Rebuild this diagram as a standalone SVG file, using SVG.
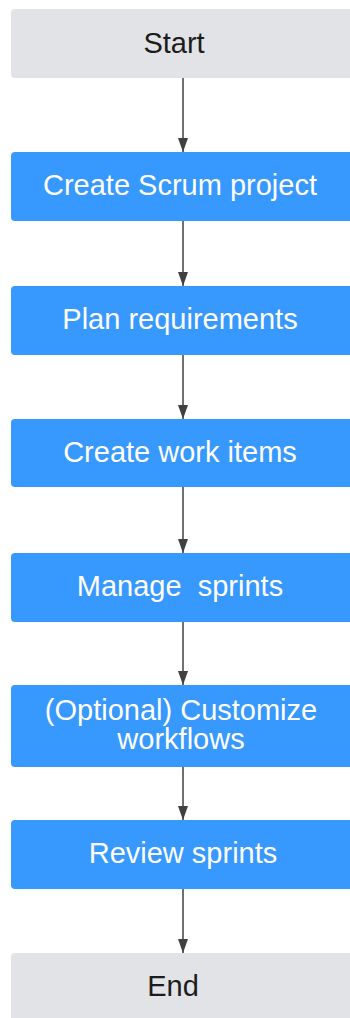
<svg xmlns="http://www.w3.org/2000/svg" width="350" height="1018" viewBox="0 0 350 1018">
<style>
.gray{fill:#e1e3e6}
.blue{fill:#3798fd}
.t{font-family:"Liberation Sans",Arial,sans-serif;font-size:29px;text-anchor:middle;white-space:pre}
.tw{fill:#ffffff}
.td{fill:#1c1c1c}
.c{stroke:#404040;stroke-width:1.5;fill:none}
</style>
<defs>
<marker id="ah" markerUnits="userSpaceOnUse" markerWidth="14" markerHeight="10" refX="14" refY="5" orient="auto" viewBox="0 0 14 10">
<path d="M0,0 L14,5 L0,10 Z" fill="#404040"/>
</marker>
</defs>
<rect width="350" height="1018" fill="#ffffff"/>
<g id="connectors">
<line class="c" x1="183" y1="78" x2="183" y2="152" marker-end="url(#ah)"/>
<line class="c" x1="183" y1="221" x2="183" y2="286" marker-end="url(#ah)"/>
<line class="c" x1="183" y1="355" x2="183" y2="419" marker-end="url(#ah)"/>
<line class="c" x1="183" y1="487" x2="183" y2="553" marker-end="url(#ah)"/>
<line class="c" x1="183" y1="622" x2="183" y2="685" marker-end="url(#ah)"/>
<line class="c" x1="183" y1="767" x2="183" y2="820" marker-end="url(#ah)"/>
<line class="c" x1="183" y1="889" x2="183" y2="953" marker-end="url(#ah)"/>
</g>
<g id="start">
<rect class="gray" x="11" y="9" width="345" height="69" rx="4"/>
<text class="t td" x="174" y="53">Start</text>
</g>
<g id="create-scrum-project">
<rect class="blue" x="11" y="152" width="345" height="69" rx="4"/>
<text class="t tw" x="180" y="195">Create Scrum project</text>
</g>
<g id="plan-requirements">
<rect class="blue" x="11" y="286" width="345" height="69" rx="4"/>
<text class="t tw" x="180" y="329">Plan requirements</text>
</g>
<g id="create-work-items">
<rect class="blue" x="11" y="419" width="345" height="68" rx="4"/>
<text class="t tw" x="180" y="462">Create work items</text>
</g>
<g id="manage-sprints">
<rect class="blue" x="11" y="553" width="345" height="69" rx="4"/>
<text class="t tw" x="180" y="596">Manage  sprints</text>
</g>
<g id="customize-workflows">
<rect class="blue" x="11" y="685" width="345" height="82" rx="4"/>
<text class="t tw" x="181" y="720">(Optional) Customize</text>
<text class="t tw" x="181" y="749">workflows</text>
</g>
<g id="review-sprints">
<rect class="blue" x="11" y="820" width="345" height="69" rx="4"/>
<text class="t tw" x="183" y="863">Review sprints</text>
</g>
<g id="end">
<rect class="gray" x="11" y="953" width="345" height="72" rx="4"/>
<text class="t td" x="173" y="996">End</text>
</g>
</svg>
